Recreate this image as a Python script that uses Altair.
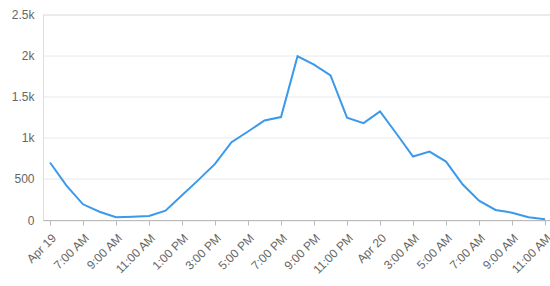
import altair as alt
import pandas as pd

hours = list(range(31))
values = [700, 418, 191, 101, 33, 40, 49, 114, 300, 488, 683, 947, 1077, 1211, 1252,
          1992, 1890, 1760, 1245, 1179, 1321, 1049, 772, 833, 711, 435, 236, 122, 89, 33, 8]
tick_positions = list(range(0, 31, 2))
tick_labels = ["Apr 19", "7:00 AM", "9:00 AM", "11:00 AM", "1:00 PM", "3:00 PM", "5:00 PM",
               "7:00 PM", "9:00 PM", "11:00 PM", "Apr 20", "3:00 AM", "5:00 AM", "7:00 AM",
               "9:00 AM", "11:00 AM"]
y_ticks = [0, 500, 1000, 1500, 2000, 2500]

df = pd.DataFrame({"h": hours, "v": values})

label_expr = "[" + ",".join("'" + s + "'" for s in tick_labels) + "][datum.value/2]"

chart = alt.Chart(df).mark_line(color="#3b99eb", strokeWidth=2).encode(
    x=alt.X("h:Q",
            scale=alt.Scale(domain=[-0.424, 30.3], nice=False, zero=False),
            axis=alt.Axis(values=tick_positions, labelExpr=label_expr, title=None,
                          labelAngle=315, grid=False, domainColor="#bbbbbb",
                          tickColor="#bbbbbb", tickSize=5, labelColor="#666666",
                          labelFontSize=12, labelFont="Liberation Sans",
                          labelPadding=7, labelOverlap=False)),
    y=alt.Y("v:Q",
            scale=alt.Scale(domain=[0, 2500], nice=False),
            axis=alt.Axis(values=y_ticks, title=None, ticks=False, domain=False,
                          gridColor="#e8e8e8", labelColor="#666666", labelFontSize=12,
                          labelFont="Liberation Sans", labelPadding=9,
                          labelExpr="datum.value >= 1000 ? (datum.value/1000) + 'k' : datum.value + ''")),
).properties(
    width=507, height=205.5,
    autosize=alt.AutoSizeParams(type="none"),
    padding={"left": 43, "top": 14.5, "right": 0, "bottom": 66},
).configure_view(stroke=None).configure(background="white")

chart.save("out.html", embed_options={"renderer": "svg", "actions": False})
